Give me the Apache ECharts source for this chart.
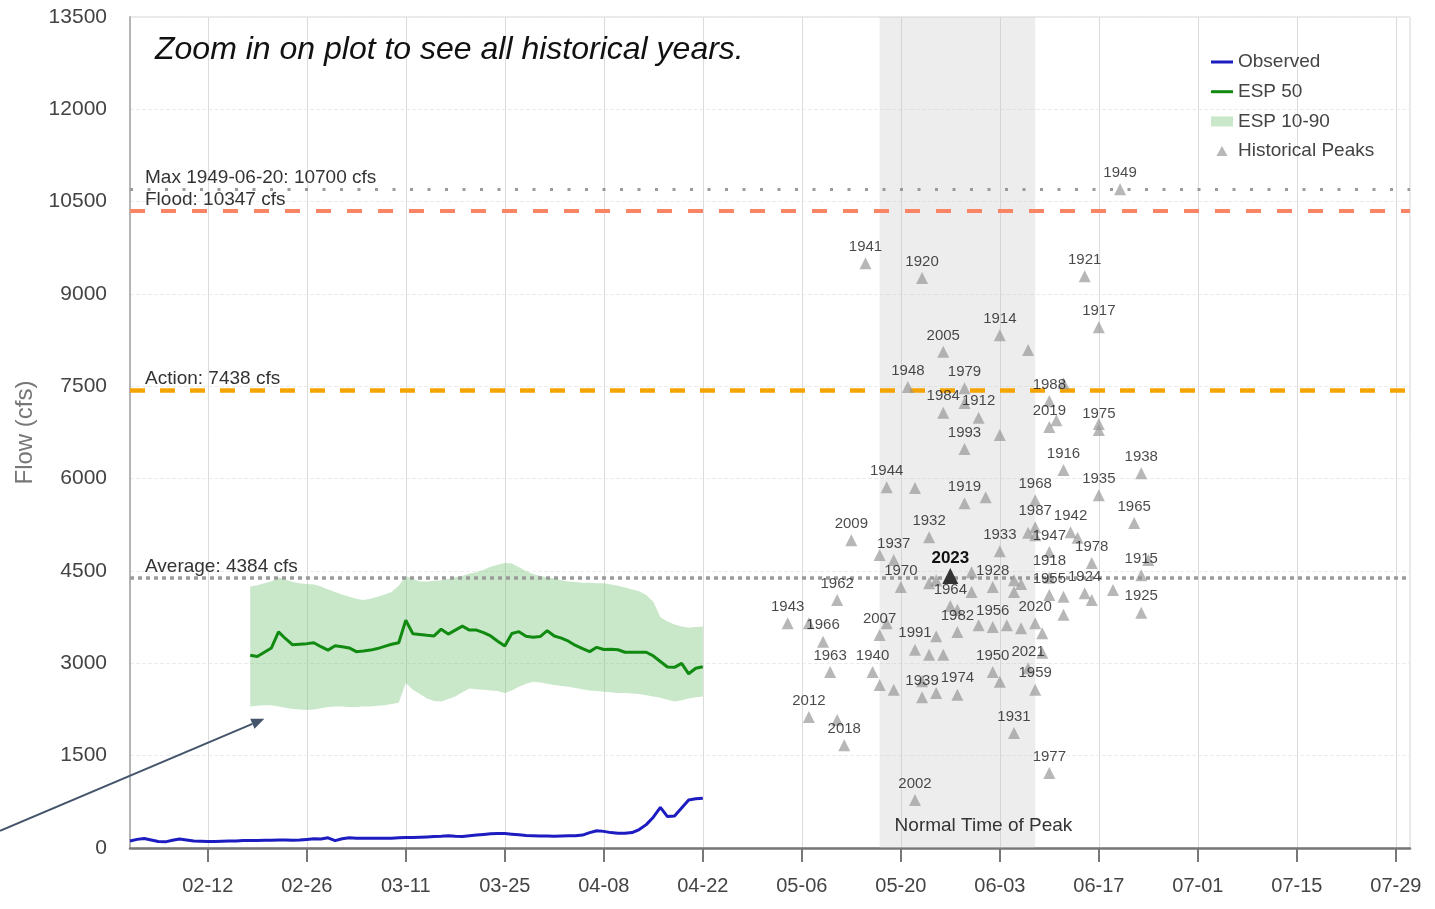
<!DOCTYPE html>
<html>
<head>
<meta charset="utf-8">
<script src="https://cdn.jsdelivr.net/npm/echarts@6/dist/echarts.min.js"></script>
<style>
  html, body { margin: 0; padding: 0; background: #fff; }
  #chart { width: 1435px; height: 909px; }
</style>
</head>
<body>
<div id="chart"></div>
<script>
// Calendar used for the MM-DD axis (leap year so 02-29 exists).
const BASE_YEAR = 2024;

// Axis range and tick labels
const axisStart = '02-01';
const axisEnd = '07-31';
const tickDates = ['02-12', '02-26', '03-11', '03-25', '04-08', '04-22', '05-06',
                   '05-20', '06-03', '06-17', '07-01', '07-15', '07-29'];

// Observed daily flow (cfs), starting at observedStart
const observedStart = '02-01';
const observedFlow = [
  115, 140, 155, 130, 105, 100, 125, 145, 130, 115,
  110, 105, 105, 110, 115, 115, 120, 120, 120, 125,
  125, 130, 130, 125, 130, 140, 150, 145, 165, 120,
  150, 165, 160, 160, 160, 160, 160, 160, 165, 170,
  170, 175, 180, 185, 190, 200, 190, 185, 200, 210,
  220, 230, 235, 235, 225, 215, 205, 200, 195, 195,
  190, 195, 200, 200, 210, 250, 280, 270, 250, 240,
  240, 250, 300, 380, 500, 660, 510, 520, 650, 780,
  800, 810
];

// ESP forecast traces (cfs), daily from espStart
const espStart = '02-18';
const esp50 = [
  3130, 3110, 3180, 3250, 3510, 3400, 3300, 3310, 3320, 3335,
  3270, 3215, 3285, 3270, 3250, 3190, 3200, 3215, 3240, 3275,
  3310, 3335, 3700, 3480, 3470, 3455, 3445, 3555, 3475, 3540,
  3605, 3540, 3540, 3500, 3445, 3360, 3280, 3485, 3515, 3440,
  3425, 3435, 3530, 3445, 3410, 3360, 3290, 3240, 3190, 3260,
  3225, 3230, 3220, 3180, 3180, 3180, 3180, 3120, 3030, 2940,
  2935, 3000, 2830, 2920, 2945
];
const esp90 = [
  4250, 4270, 4300, 4330, 4400, 4360, 4320, 4300, 4290, 4280,
  4250, 4200, 4160, 4120, 4080, 4050, 4030, 4050, 4080, 4120,
  4160, 4260, 4420, 4370, 4330, 4330, 4340, 4350, 4370, 4400,
  4420, 4460, 4480, 4520, 4570, 4600, 4630, 4620, 4560, 4500,
  4450, 4420, 4400, 4380, 4350, 4330, 4320, 4310, 4310, 4300,
  4300, 4280, 4260, 4230, 4200, 4170, 4110, 4000, 3750, 3680,
  3630, 3600, 3580, 3590, 3600
];
const esp10 = [
  2300, 2310, 2320, 2320, 2300, 2280, 2260, 2250, 2240, 2250,
  2270, 2290, 2300, 2300, 2290, 2290, 2300, 2300, 2310, 2320,
  2340, 2360, 2680, 2570, 2500, 2430, 2390, 2380, 2420, 2460,
  2530, 2590, 2580, 2570, 2560, 2550, 2520, 2560, 2620, 2670,
  2700, 2690, 2670, 2650, 2630, 2620, 2600, 2580, 2560, 2550,
  2540, 2530, 2520, 2520, 2510, 2500, 2480, 2460, 2440, 2410,
  2380, 2400, 2430, 2450, 2460
];

// Historical annual peaks: year label ('' = unlabeled), date, flow (cfs)
const peakYears = [
  '1949', '1941', '1920', '1921', '1917', '1914', '2005', '1948', '1979', '1984',
  '1912', '1988', '2019', '1975', '1993', '1916', '1938', '1944', '1935', '1919',
  '1968', '1965', '2009', '1932', '1987', '1942', '1933', '1947', '1937', '1978',
  '2023', '1970', '1918', '1928', '1915', '1924', '1955', '1962', '1964', '1925',
  '1943', '1956', '2020', '1982', '2007', '1966', '1991', '1963', '1940', '1950',
  '2021', '1959', '1939', '1974', '2012', '1931', '2018', '1977', '2002',
  '', '', '', '', '', '', '', '', '', '',
  '', '', '', '', '', '', '', '', '', '',
  '', '', '', '', '', '', '', '', '', '',
  '', '', '', '', '', '', '', '', '', '',
  ''
];
const peakDates = [
  '06-20', '05-15', '05-23', '06-15', '06-17', '06-03', '05-26', '05-21', '05-29', '05-26',
  '05-31', '06-10', '06-10', '06-17', '05-29', '06-12', '06-23', '05-18', '06-17', '05-29',
  '06-08', '06-22', '05-13', '05-24', '06-08', '06-13', '06-03', '06-10', '05-19', '06-16',
  '05-27', '05-20', '06-10', '06-02', '06-23', '06-15', '06-10', '05-11', '05-27', '06-23',
  '05-04', '06-02', '06-08', '05-28', '05-17', '05-09', '05-22', '05-10', '05-16', '06-02',
  '06-07', '06-08', '05-23', '05-28', '05-07', '06-05', '05-12', '06-10', '05-22',
  '06-07', '06-12', '06-11', '06-17', '05-29', '06-03', '05-22', '06-01', '05-17', '06-08',
  '06-07', '06-14', '05-24', '05-25', '05-30', '05-30', '06-05', '06-05', '06-06', '06-12',
  '06-12', '06-16', '06-19', '06-24', '05-28', '05-31', '06-04', '06-06', '06-09', '05-25',
  '05-18', '05-07', '05-24', '05-26', '05-17', '05-19', '05-23', '05-25', '06-03', '06-09',
  '05-11'
];
const peakFlows = [
  10700, 9500, 9260, 9290, 8460, 8330, 8060, 7490, 7470, 7070,
  6990, 7260, 6840, 6790, 6480, 6140, 6090, 5860, 5730, 5600,
  5650, 5280, 5000, 5050, 5210, 5130, 4820, 4810, 4680, 4630,
  4420, 4240, 4390, 4240, 4430, 4140, 4110, 4030, 3930, 3820,
  3650, 3590, 3650, 3510, 3460, 3350, 3220, 2860, 2860, 2860,
  2920, 2570, 2450, 2490, 2130, 1870, 1670, 1220, 780,
  8090, 7550, 6950, 6890, 7230, 6710, 5850, 5700, 4760, 5080,
  5120, 5040, 4300, 4350, 4480, 4160, 4350, 4160, 4290, 4080,
  3790, 4030, 4190, 4680, 3870, 3620, 3620, 3570, 3490, 3440,
  3650, 3650, 3140, 3140, 2650, 2570, 2710, 2520, 2700, 3170,
  2080
];
const currentYear = '2023';

// Reference levels (cfs)
const maxPeakDate = '1949-06-20';
const maxPeakFlow = 10700;
const floodFlow = 10347;
const actionFlow = 7438;
const averageFlow = 4384;

// Usual window of the annual peak
const peakWindow = ['05-17', '06-08'];

// Point the annotation arrow aims at
const arrowTarget = { date: '02-20', flow: 2100 };

// ---- helpers ----
const DAY_MS = 86400000;
const ORIGIN = Date.UTC(BASE_YEAR, 1, 1);
function dayOf(md) {
  const [m, d] = md.split('-').map(Number);
  return (Date.UTC(BASE_YEAR, m - 1, d) - ORIGIN) / DAY_MS;
}
function mdOf(day) {
  const t = new Date(ORIGIN + Math.round(day) * DAY_MS);
  return String(t.getUTCMonth() + 1).padStart(2, '0') + '-' + String(t.getUTCDate()).padStart(2, '0');
}
function daily(start, values) {
  const s = dayOf(start);
  return values.map((v, i) => [s + i, v]);
}

const FONT = '"Liberation Sans", Arial, Helvetica, sans-serif';
const BAND_COLOR = 'rgba(120,195,120,0.4)';
const OBS_COLOR = '#1c1cc0';
const ESP_COLOR = '#118a11';
const tickDays = tickDates.map(dayOf);

const observedData = daily(observedStart, observedFlow);
const esp50Data = daily(espStart, esp50);
const espBandData = esp10.map((lo, i) => [dayOf(espStart) + i, lo, esp90[i]]);

const peakData = peakDates.map((d, i) => {
  const year = peakYears[i];
  const item = { name: year, value: [dayOf(d), peakFlows[i]] };
  if (!year) {
    item.label = { show: false };
  } else if (year === currentYear) {
    item.symbolSize = 16;
    item.itemStyle = { color: '#333333', opacity: 1 };
    item.label = { show: true, fontWeight: 'bold', fontSize: 17, color: '#111', distance: 1 };
  }
  return item;
});

const refLabel = (text) => ({
  show: true,
  formatter: text,
  position: 'insideStartTop',
  distance: [15, 2],
  fontSize: 19,
  color: '#333',
  fontFamily: FONT
});

// legend glyphs
const LINE_ICON = 'path://M0,0 L22,0 L22,3 L0,3 Z';
const TRI_ICON = 'path://M5,0 L10,9 L0,9 Z';

const chart = echarts.init(document.getElementById('chart'), null, { renderer: 'canvas' });

const option = {
  animation: false,
  textStyle: { fontFamily: FONT },
  title: {
    text: 'Zoom in on plot to see all historical years.',
    left: 155,
    top: 34,
    padding: 0,
    textStyle: { fontStyle: 'italic', fontWeight: 'normal', fontSize: 32, color: '#111', fontFamily: FONT }
  },
  legend: {
    orient: 'vertical',
    left: 1206,
    top: 47,
    itemWidth: 22,
    itemHeight: 10,
    itemGap: 9.7,
    textStyle: { fontSize: 19, color: '#444', lineHeight: 20, fontFamily: FONT },
    data: [
      { name: 'Observed', icon: LINE_ICON, itemStyle: { color: OBS_COLOR } },
      { name: 'ESP 50', icon: LINE_ICON, itemStyle: { color: ESP_COLOR } },
      { name: 'ESP 10-90', icon: 'rect', itemStyle: { color: BAND_COLOR } },
      { name: 'Historical Peaks', icon: TRI_ICON, itemStyle: { color: '#a6a6a6' } }
    ]
  },
  grid: {
    left: 130, right: 25, top: 17, bottom: 61,
    show: true, borderColor: '#d4d4d4', borderWidth: 1
  },
  xAxis: {
    type: 'value',
    min: dayOf(axisStart),
    max: dayOf(axisEnd),
    axisLine: { show: true, lineStyle: { color: '#777', width: 2.5 } },
    axisTick: { show: true, length: 14, lineStyle: { color: '#777', width: 2 }, customValues: tickDays },
    axisLabel: { customValues: tickDays, formatter: (v) => mdOf(v), fontSize: 20, color: '#444', margin: 28 },
    splitLine: { show: true, lineStyle: { color: '#dcdcdc', width: 1 } }
  },
  yAxis: {
    type: 'value',
    min: 0,
    max: 13500,
    interval: 1500,
    name: 'Flow (cfs)',
    nameLocation: 'middle',
    nameGap: 92,
    nameRotate: 90,
    nameTextStyle: { fontSize: 24, color: '#777', fontFamily: FONT },
    axisLine: { show: true, lineStyle: { color: '#b4b4b4', width: 2 } },
    axisTick: { show: false },
    axisLabel: { formatter: (v) => String(v), fontSize: 21, color: '#444', margin: 23 },
    splitLine: { show: true, lineStyle: { color: '#ececec', type: 'dashed' } }
  },
  series: [
    {
      // shaded peak-timing window
      name: 'peak window',
      type: 'line',
      data: [],
      z: 1,
      silent: true,
      markArea: {
        silent: true,
        itemStyle: { color: 'rgba(200,200,200,0.32)' },
        label: {
          show: true,
          position: 'insideBottomLeft',
          offset: [10, -8],
          fontSize: 19,
          color: '#333',
          fontFamily: FONT
        },
        data: [[
          { name: 'Normal Time of Peak', xAxis: dayOf(peakWindow[0]) },
          { xAxis: dayOf(peakWindow[1]) }
        ]]
      }
    },
    {
      // 10-90 % envelope drawn as one polygon through the axis scales
      name: 'ESP 10-90',
      type: 'custom',
      data: espBandData,
      encode: { x: 0, y: [1, 2] },
      silent: true,
      z: 2,
      itemStyle: { color: BAND_COLOR },
      renderItem: (params, api) => {
        if (params.dataIndex !== 0) return null;
        const upper = espBandData.map((r) => api.coord([r[0], r[2]]));
        const lower = espBandData.map((r) => api.coord([r[0], r[1]])).reverse();
        return {
          type: 'polygon',
          shape: { points: upper.concat(lower) },
          style: { fill: BAND_COLOR }
        };
      }
    },
    {
      // reference levels
      name: 'levels',
      type: 'line',
      data: [],
      z: 3,
      silent: true,
      markLine: {
        silent: true,
        symbol: ['none', 'none'],
        data: [
          {
            yAxis: maxPeakFlow,
            lineStyle: { color: '#9a9a9a', width: 3, type: [3, 14.5] },
            label: refLabel('Max ' + maxPeakDate + ': ' + maxPeakFlow + ' cfs')
          },
          {
            yAxis: floodFlow,
            lineStyle: { color: '#fa8466', width: 4, type: [15, 16] },
            label: refLabel('Flood: ' + floodFlow + ' cfs')
          },
          {
            yAxis: actionFlow,
            lineStyle: { color: '#f5a300', width: 4.5, type: [15, 15] },
            label: refLabel('Action: ' + actionFlow + ' cfs')
          },
          {
            yAxis: averageFlow,
            lineStyle: { color: '#9a9a9a', width: 3.5, type: [4, 4] },
            label: refLabel('Average: ' + averageFlow + ' cfs')
          }
        ]
      }
    },
    {
      name: 'ESP 50',
      type: 'line',
      data: esp50Data,
      symbol: 'none',
      z: 4,
      color: ESP_COLOR,
      lineStyle: { color: ESP_COLOR, width: 3 }
    },
    {
      name: 'Observed',
      type: 'line',
      data: observedData,
      symbol: 'none',
      z: 4,
      color: OBS_COLOR,
      lineStyle: { color: OBS_COLOR, width: 3 }
    },
    {
      name: 'Historical Peaks',
      type: 'scatter',
      data: peakData,
      symbol: 'triangle',
      symbolSize: 12,
      z: 5,
      color: '#a6a6a6',
      itemStyle: { color: 'rgba(150,150,150,0.85)' },
      label: {
        show: true,
        position: 'top',
        distance: 3,
        formatter: '{b}',
        fontSize: 15,
        color: '#1a1a1a',
        fontFamily: FONT
      }
    }
  ]
};

chart.setOption(option);

// Annotation arrow pointing at the ESP band
const tip = chart.convertToPixel({ gridIndex: 0 }, [dayOf(arrowTarget.date), arrowTarget.flow]);
const tail = [0, tip[1] + 112];
const dx = tip[0] - tail[0], dy = tip[1] - tail[1];
const len = Math.sqrt(dx * dx + dy * dy);
const ux = dx / len, uy = dy / len;
const headLen = 13, headHalf = 5.5;
const bx = tip[0] - ux * headLen, by = tip[1] - uy * headLen;
chart.setOption({
  graphic: [
    {
      type: 'line',
      z: 10,
      silent: true,
      shape: { x1: tail[0], y1: tail[1], x2: bx, y2: by },
      style: { stroke: '#44546a', lineWidth: 2 }
    },
    {
      type: 'polygon',
      z: 10,
      silent: true,
      shape: {
        points: [
          [tip[0], tip[1]],
          [bx - uy * headHalf, by + ux * headHalf],
          [bx + uy * headHalf, by - ux * headHalf]
        ]
      },
      style: { fill: '#44546a' }
    }
  ]
});
</script>
</body>
</html>
